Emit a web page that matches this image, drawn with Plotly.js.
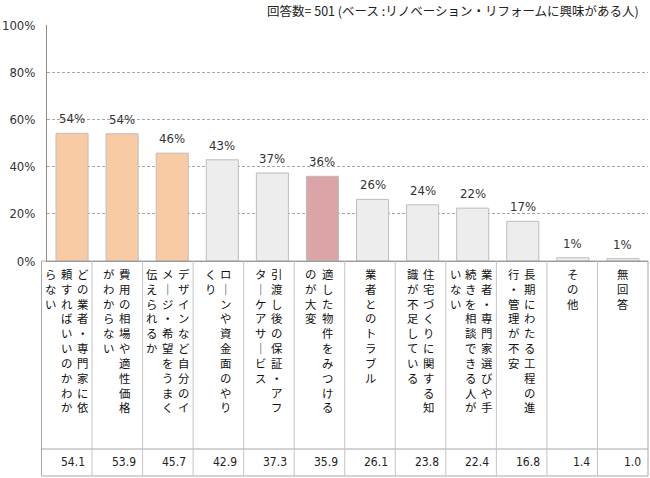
<!DOCTYPE html>
<html>
<head>
<meta charset="utf-8">
<script src="https://cdn.plot.ly/plotly-3.0.1.min.js"></script>
<style>html,body{margin:0;padding:0;background:#fff;}#chart{width:650px;height:478px;}</style>
</head>
<body>
<div id="chart"></div>
<script>
// ---- data ----
const categories = [
  "どの業者・専門家に依頼すればいいのかわからない",
  "費用の相場や適性価格がわからない",
  "デザインなど自分のイメージ・希望をうまく伝えられるか",
  "ローンや資金面のやりくり",
  "引渡し後の保証・アフターケアサービス",
  "適した物件をみつけるのが大変",
  "業者とのトラブル",
  "住宅づくりに関する知識が不足している",
  "業者・専門家選びや手続きを相談できる人がいない",
  "長期にわたる工程の進行・管理が不安",
  "その他",
  "無回答"
];
// label text split into vertical columns (first = rightmost)
const labelColumns = [
  ["どの業者・専門家に依", "頼すればいいのかわか", "らない"],
  ["費用の相場や適性価格", "がわからない"],
  ["デザインなど自分のイ", "メージ・希望をうまく", "伝えられるか"],
  ["ローンや資金面のやり", "くり"],
  ["引渡し後の保証・アフ", "ターケアサービス"],
  ["適した物件をみつける", "のが大変"],
  ["業者とのトラブル"],
  ["住宅づくりに関する知", "識が不足している"],
  ["業者・専門家選びや手", "続きを相談できる人が", "いない"],
  ["長期にわたる工程の進", "行・管理が不安"],
  ["その他"],
  ["無回答"]
];
const values = [54.1, 53.9, 45.7, 42.9, 37.3, 35.9, 26.1, 23.8, 22.4, 16.8, 1.4, 1.0];
const headerText = "回答数= 501 (ベース :リノベーション・リフォームに興味がある人)";

// ---- styles ----
const ORANGE = "#F9CBA5", GRAY = "#EDEDED", PINK = "#DBA5A7";
const barColors = [ORANGE, ORANGE, ORANGE, GRAY, GRAY, PINK, GRAY, GRAY, GRAY, GRAY, GRAY, GRAY];
const JP = "'Noto Sans CJK JP', 'Noto Sans', sans-serif";
const NARROW = "'DejaVu Sans Condensed', 'Liberation Sans Narrow', 'DejaVu Sans', sans-serif";

// ---- layout geometry (pixels) ----
const W = 650, H = 478;
const PL = 47, PR = 648, PT = 25, PB = 261;
const px2x = p => (p - PL) / (PR - PL);
const px2y = p => (PB - p) / (PB - PT);
const TL = 41.5, TR = 648, LABEL_BOTTOM = 449, TABLE_BOTTOM = 476;
const colW = (TR - TL) / categories.length;
const colCenter = i => TL + colW * (i + 0.5);

const xIdx = categories.map((_, i) => i);

const trace = {
  type: "bar",
  x: xIdx,
  y: values,
  width: 0.64,
  marker: { color: barColors, line: { color: "#BDBDBD", width: 1 } },
  hoverinfo: "skip"
};

const shapes = [];
const lineColor = "#A8A8A8";
shapes.push({ type: "rect", xref: "paper", yref: "paper", x0: px2x(TL), x1: px2x(TR), y0: px2y(PB), y1: px2y(TABLE_BOTTOM), line: { color: lineColor, width: 1 } });
shapes.push({ type: "line", xref: "paper", yref: "paper", x0: px2x(TL), x1: px2x(TR), y0: px2y(LABEL_BOTTOM), y1: px2y(LABEL_BOTTOM), line: { color: lineColor, width: 1 } });
for (let i = 1; i < categories.length; i++) {
  const xp = px2x(TL + colW * i);
  shapes.push({ type: "line", xref: "paper", yref: "paper", x0: xp, x1: xp, y0: px2y(PB), y1: px2y(TABLE_BOTTOM), line: { color: "#C4C4C4", width: 1 } });
}

const annotations = [];
// value labels above bars
values.forEach((v, i) => {
  annotations.push({
    xref: "x", yref: "y", x: i, y: v,
    xanchor: "center", yanchor: "bottom", yshift: 5,
    text: Math.round(v) + "%", showarrow: false,
    font: { family: NARROW, size: 13, color: "#333" }
  });
});
const colPitch = 16;
labelColumns.forEach((cols, i) => {
  const n = cols.length;
  cols.forEach((txt, k) => {
    const chars = Array.from(txt).map(c => c === "ー" ? "｜" : c);
    annotations.push({
      xref: "paper", yref: "paper",
      x: px2x(colCenter(i)), y: px2y(264),
      xanchor: "center", yanchor: "top",
      xshift: ((n - 1) / 2 - k) * colPitch,
      text: chars.join("<br>"),
      showarrow: false, align: "center",
      font: { family: JP, size: 11.4, color: "#111" }
    });
  });
});
values.forEach((v, i) => {
  annotations.push({
    xref: "paper", yref: "paper",
    x: px2x(TL + colW * (i + 1) - 5), y: px2y(462.5),
    xanchor: "right", yanchor: "middle",
    text: v.toFixed(1), showarrow: false,
    font: { family: NARROW, size: 12, color: "#222" }
  });
});
annotations.push({
  xref: "paper", yref: "paper",
  x: px2x(641), y: px2y(11),
  xanchor: "right", yanchor: "middle",
  text: headerText, showarrow: false,
  font: { family: JP, size: 12.5, color: "#222" }
});

const layout = {
  width: W, height: H,
  margin: { l: PL, r: W - PR, t: PT, b: H - PB, pad: 0 },
  paper_bgcolor: "#fff", plot_bgcolor: "#fff",
  showlegend: false,
  xaxis: {
    range: [-0.5, categories.length - 0.5],
    showticklabels: false, ticks: "", showgrid: false, zeroline: false,
    showline: true, linecolor: "#8C8C8C", linewidth: 1, fixedrange: true
  },
  yaxis: {
    range: [0, 100], dtick: 20, ticksuffix: "%",
    tickfont: { family: NARROW, size: 13, color: "#333" },
    showgrid: true, gridcolor: "#A6A6A6", griddash: "3px,2px", gridwidth: 1,
    zeroline: false, showline: true, linecolor: "#8C8C8C", linewidth: 1,
    ticks: "", ticklabelstandoff: 8, fixedrange: true
  },
  shapes: shapes,
  annotations: annotations
};

Plotly.newPlot("chart", [trace], layout, { displayModeBar: false, staticPlot: true });
</script>
</body>
</html>
